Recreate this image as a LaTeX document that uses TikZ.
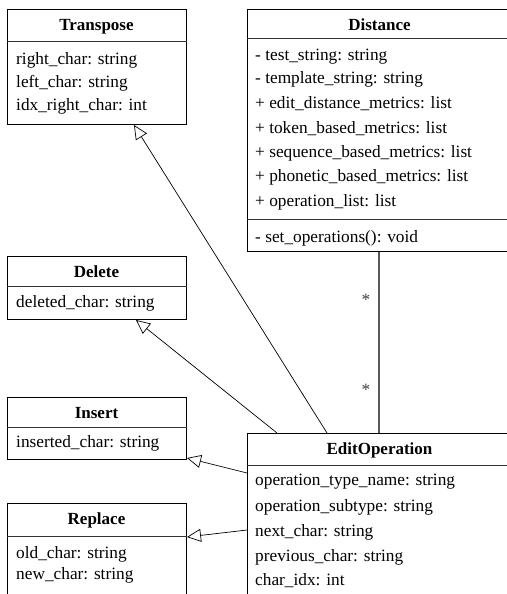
\documentclass[tikz,border=0pt]{standalone}
\usepackage{fontspec}
\setmainfont{Liberation Serif}
\usetikzlibrary{arrows.meta,calc}
\tikzset{
  umlbox/.style={draw=black, line width=1pt, inner sep=0pt, anchor=north west, fill=none},
  ttl/.style={font=\fontsize{17}{20}\selectfont\bfseries, anchor=base, inner sep=0pt},
  attr/.style={anchor=base west, inner sep=0pt},
  sepline/.style={draw=black!80, line width=1pt},
  inh/.style={draw=black, line width=0.7pt, -{Triangle[open,length=14pt,width=13pt,line width=0.7pt]}},
  assoc/.style={draw=black!65, line width=1.3pt},
  mult/.style={anchor=base, inner sep=0pt, text=black!75}
}
\begin{document}
\begin{tikzpicture}[x=1pt,y=-1pt, font=\fontsize{17.3}{20}\selectfont]
\useasboundingbox (0,0) rectangle (506,594);
% Transpose
\node[umlbox, minimum width=179pt, minimum height=115pt] (tr) at (7,9) {};
\draw[sepline] (tr.west |- 0,42) -- (tr.east |- 0,42);
\node[ttl] (trT) at (96.5,31) {Transpose};
\node[attr] (tr1) at (16,64) {right\_char: string};
\node[attr] (tr2) at (16,87) {left\_char: string};
\node[attr] (tr3) at (16,110) {idx\_right\_char: int};
% Distance
\node[umlbox, minimum width=265pt, minimum height=242pt] (di) at (247,9) {};
\draw[sepline] (di.west |- 0,39) -- (di.east |- 0,39);
\draw[sepline] (di.west |- 0,219) -- (di.east |- 0,219);
\node[ttl] (diT) at (379.5,31) {Distance};
\node[attr] (di1) at (255,60) {- test\_string: string};
\node[attr] (di2) at (255,84) {- template\_string: string};
\node[attr] (di3) at (255,108) {+ edit\_distance\_metrics: list};
\node[attr] (di4) at (255,133) {+ token\_based\_metrics: list};
\node[attr] (di5) at (255,157) {+ sequence\_based\_metrics: list};
\node[attr] (di6) at (255,181) {+ phonetic\_based\_metrics: list};
\node[attr] (di7) at (255,206) {+ operation\_list: list};
\node[attr] (di8) at (255,242) {- set\_operations(): void};
% Delete
\node[umlbox, minimum width=179pt, minimum height=63pt] (de) at (7,256) {};
\draw[sepline] (de.west |- 0,286) -- (de.east |- 0,286);
\node[ttl] (deT) at (96.5,277) {Delete};
\node[attr] (de1) at (16,307) {deleted\_char: string};
% Insert
\node[umlbox, minimum width=179pt, minimum height=62pt] (in) at (7,397) {};
\draw[sepline] (in.west |- 0,427) -- (in.east |- 0,427);
\node[ttl] (inT) at (96.5,418) {Insert};
\node[attr] (in1) at (16,447) {inserted\_char: string};
% Replace
\node[umlbox, minimum width=179pt, minimum height=100pt] (re) at (7,503) {};
\draw[sepline] (re.west |- 0,536) -- (re.east |- 0,536);
\node[ttl] (reT) at (96.5,524) {Replace};
\node[attr] (re1) at (16,558) {old\_char: string};
\node[attr] (re2) at (16,579) {new\_char: string};
% EditOperation
\node[umlbox, minimum width=265pt, minimum height=190pt] (eo) at (247,433) {};
\draw[sepline] (eo.west |- 0,465) -- (eo.east |- 0,465);
\node[ttl] (eoT) at (379.5,454) {EditOperation};
\node[attr] (eo1) at (255,485) {operation\_type\_name: string};
\node[attr] (eo2) at (255,511) {operation\_subtype: string};
\node[attr] (eo3) at (255,536) {next\_char: string};
\node[attr] (eo4) at (255,561) {previous\_char: string};
\node[attr] (eo5) at (255,585) {char\_idx: int};
% association
\draw[assoc] ($(di.south west)+(132,0)$) -- ($(eo.north west)+(132,0)$);
\node[mult] (m1) at (366,305) {*};
\node[mult] (m2) at (366,395) {*};
% inheritance
\draw[inh] ($(eo.north west)+(80,0)$) -- ($(tr.south west)+(127,0)$);
\draw[inh] ($(eo.north west)+(30,0)$) -- ($(de.south west)+(129,0)$);
\draw[inh] ($(eo.north west)+(0,40)$) -- ($(in.south east)+(0,-2)$);
\draw[inh] ($(eo.north west)+(0,97)$) -- ($(re.north east)+(0,34)$);
\end{tikzpicture}
\end{document}
